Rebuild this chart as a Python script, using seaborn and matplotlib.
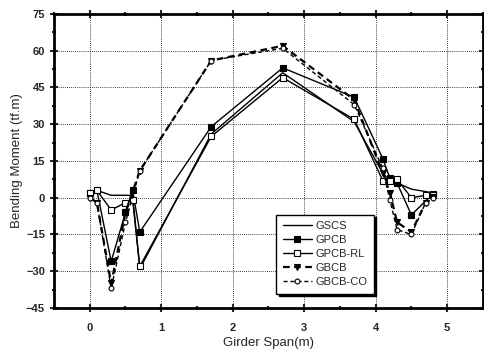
import matplotlib
matplotlib.use("Agg")
import matplotlib.pyplot as plt
import seaborn as sns
import numpy as np

sns.set_style("ticks")
plt.rcParams['font.family'] = ['Liberation Sans', 'DejaVu Sans']

# ---- data ----
x_gscs = [0.0, 0.1, 0.3, 0.5, 0.6, 0.7, 1.7, 2.7, 3.7, 4.1, 4.2, 4.3, 4.5, 4.8]
y_gscs = [2, 3, 1, 1, 1, -29, 26, 51, 31, 10, 7, 6, 3.5, 2]

x_gpcb = [0.0, 0.1, 0.3, 0.5, 0.6, 0.7, 1.7, 2.7, 3.7, 4.1, 4.2, 4.3, 4.5, 4.8]
y_gpcb = [2, 3, -26, -6, 3, -14, 29, 53, 41, 16, 8, 6, -7, 1.5]

x_gpcbrl = [0.0, 0.1, 0.3, 0.5, 0.6, 0.7, 1.7, 2.7, 3.7, 4.1, 4.2, 4.3, 4.5, 4.7, 4.8]
y_gpcbrl = [2, 3, -5, -2, -1, -28, 25, 49, 32, 7, 7, 7.5, 0, 1, 1]

x_gbcb = [0.0, 0.1, 0.3, 0.5, 0.7, 1.7, 2.7, 3.7, 4.1, 4.2, 4.3, 4.5, 4.7, 4.8]
y_gbcb = [0, -2, -35, -6, 11, 56, 62, 40, 10, 2, -10, -14, -2, 0.5]

x_gbcbco = [0.0, 0.1, 0.3, 0.5, 0.7, 1.7, 2.7, 3.7, 4.1, 4.2, 4.3, 4.5, 4.7, 4.8]
y_gbcbco = [0, -2, -37, -10, 11, 56, 61, 38, 12, -1, -13, -15, -2, 0]

labels = ["GSCS", "GPCB", "GPCB-RL", "GBCB", "GBCB-CO"]
x_ticks = [0, 1, 2, 3, 4, 5]
y_ticks = [-45, -30, -15, 0, 15, 30, 45, 60, 75]

fig = plt.figure(figsize=(4.84, 3.58), dpi=100)
ax = fig.add_axes([0.1116, 0.1397, 0.886, 0.8213])

series = [
    (x_gscs, y_gscs, dict(linestyle='-', marker=None, lw=1.0)),
    (x_gpcb, y_gpcb, dict(linestyle='-', marker='s', lw=1.0, markerfacecolor='black', markersize=4)),
    (x_gpcbrl, y_gpcbrl, dict(linestyle='-', marker='s', lw=1.0, markerfacecolor='white', markersize=4)),
    (x_gbcb, y_gbcb, dict(linestyle=(0, (3, 2)), marker='v', lw=1.6, markerfacecolor='black', markersize=4)),
    (x_gbcbco, y_gbcbco, dict(linestyle=(0, (3, 2)), marker='o', lw=1.0, markerfacecolor='white', markersize=3.5)),
]
for (xs, ys, kw), lab in zip(series, labels):
    sns.lineplot(x=xs, y=ys, ax=ax, color='black', label=lab, sort=False,
                 markeredgecolor='black', markeredgewidth=0.8, **kw)

ax.set_xlim(-0.5, 5.5)
ax.set_ylim(-45, 75)
ax.set_xticks(x_ticks)
ax.set_yticks(y_ticks)
ax.set_xticks(np.arange(-0.5, 5.6, 0.5), minor=True)
ax.set_yticks(np.arange(-45, 76, 7.5), minor=True)
ax.grid(True, which='major', linestyle=(0, (1, 1.5)), color='black', linewidth=0.6)
for s in ax.spines.values():
    s.set_linewidth(2.0)
    s.set_color('black')
ax.tick_params(which='both', direction='inout', top=True, right=True,
               labeltop=False, labelright=False, width=1.5)
ax.tick_params(which='major', length=6, labelsize=8)
ax.tick_params(which='minor', length=3)
for t in ax.get_xticklabels() + ax.get_yticklabels():
    t.set_fontweight('bold')
ax.tick_params(axis='x', pad=8)

ax.set_xlabel("Girder Span(m)", fontsize=9.5, labelpad=3)
ax.set_ylabel("Bending Moment (tf.m)", fontsize=9.5, labelpad=2)

leg = ax.legend(loc='lower left', bbox_to_anchor=(0.505, 0.03), fontsize=8,
                frameon=True, fancybox=False, edgecolor='black',
                shadow={'color': 'black', 'alpha': 1.0}, handlelength=2.6,
                borderpad=0.6, labelspacing=0.35, handletextpad=0.3)
leg.get_frame().set_linewidth(1.0)

fig.savefig("out.png", dpi=100)
